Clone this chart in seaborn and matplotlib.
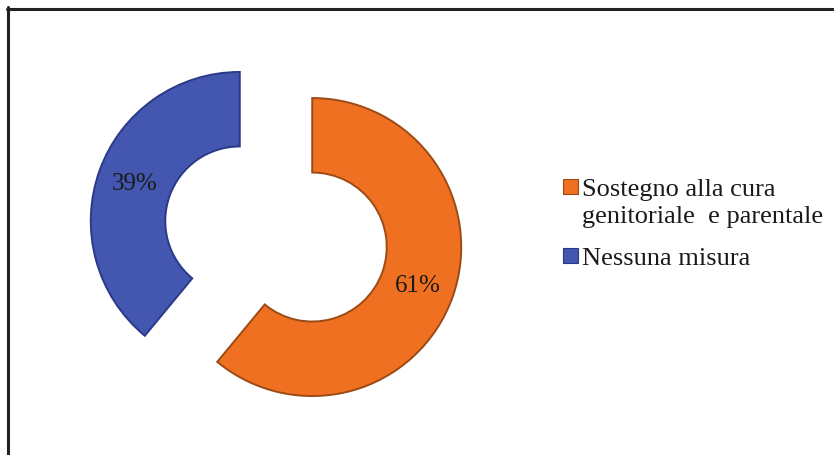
import matplotlib
matplotlib.use("Agg")
import matplotlib.pyplot as plt
from matplotlib.lines import Line2D
from matplotlib.patches import Patch, Rectangle
from matplotlib.legend_handler import HandlerPatch
import seaborn as sns

# Shares of measures adopted
categories = ["Sostegno alla cura\ngenitoriale  e parentale", "Nessuna misura"]
shares = [61, 39]
colors = ["#F07021", "#4356B0"]
edge_colors = ["#9C4A16", "#2B3A86"]

sns.set_theme(style="white")
plt.rcParams["font.family"] = ["Liberation Serif", "DejaVu Serif"]

W, H = 834, 456
fig = plt.figure(figsize=(W / 100, H / 100), dpi=100)
fig.patch.set_facecolor("white")
ax = fig.add_axes([0, 0, 1, 1])

radius = 149
gap = 38.5  # offset of each wedge from the common centre, in pixels
wedges, texts, autotexts = ax.pie(
    shares,
    colors=colors,
    startangle=90,
    counterclock=False,
    explode=[gap, gap],
    radius=radius,
    center=(276, 221),
    autopct="%d%%",
    pctdistance=0.75,
    wedgeprops=dict(width=radius * 0.5, linewidth=1.4),
    textprops=dict(fontsize=18, color="#1a1a1a"),
)
for w, ec in zip(wedges, edge_colors):
    w.set_edgecolor(ec)

ax.set_xlim(0, W)
ax.set_ylim(0, H)
ax.set_aspect("equal")
ax.axis("off")


class TopSquare(HandlerPatch):
    """Square legend key aligned with the first line of its label."""

    def __init__(self, lift, **kw):
        super().__init__(**kw)
        self.lift = lift

    def create_artists(self, legend, orig_handle, xdescent, ydescent, width, height, fontsize, trans):
        side = 0.57 * fontsize
        p = Rectangle((-xdescent + width - side, -ydescent + self.lift * fontsize), side, side,
                      facecolor=orig_handle.get_facecolor(), edgecolor=orig_handle.get_edgecolor(),
                      linewidth=0.8, transform=trans)
        return [p]


fs = 19
handles = [Patch(facecolor=c, edgecolor=ec) for c, ec in zip(colors, edge_colors)]
leg = fig.legend(
    handles,
    categories,
    loc="upper left",
    bbox_to_anchor=(563 / W, 1 - 179 / H),
    frameon=False,
    fontsize=fs,
    handlelength=0.57,
    handleheight=0.57,
    handletextpad=0.15,
    labelspacing=0.75,
    borderaxespad=0,
    borderpad=0,
    handler_map={handles[0]: TopSquare(lift=0.6), handles[1]: TopSquare(lift=0.0)},
)
for t in leg.get_texts():
    t.set_color("#1a1a1a")
    t.set_linespacing(1.27)

# Frame lines along the top and left sides
fig.add_artist(Line2D([7.5 / W, 7.5 / W], [0, 1 - 8 / H], transform=fig.transFigure, color="#222222", lw=2.2))
fig.add_artist(Line2D([6.5 / W, 1], [1 - 9.5 / H, 1 - 9.5 / H], transform=fig.transFigure, color="#222222", lw=2.2))

fig.savefig("out.png", dpi=100, facecolor="white")
